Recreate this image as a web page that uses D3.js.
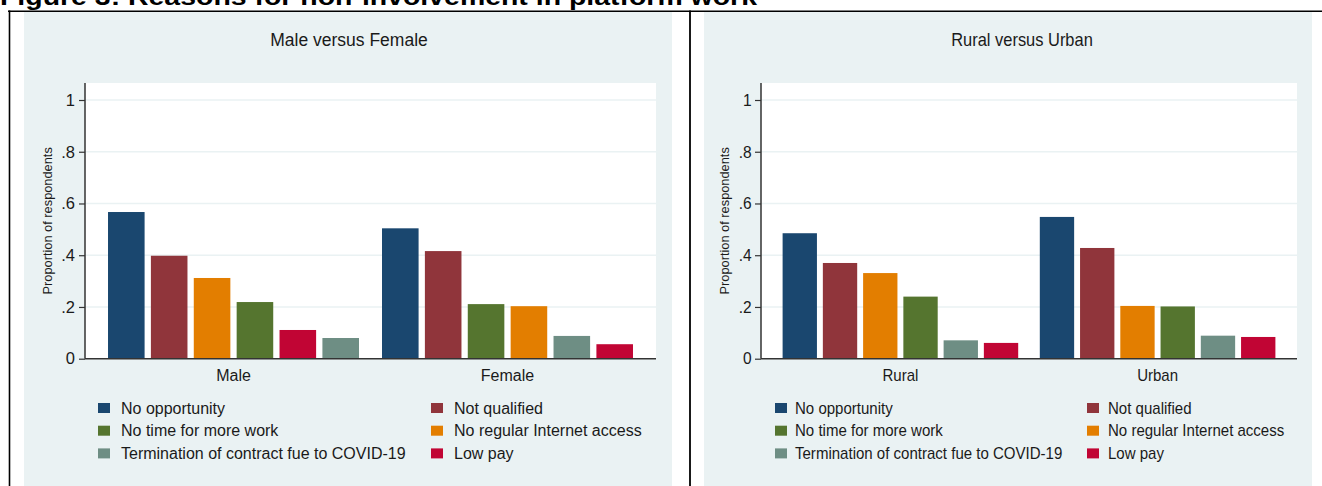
<!DOCTYPE html>
<html>
<head>
<meta charset="utf-8">
<script src="https://cdn.jsdelivr.net/npm/d3@7"></script>
<style>
  html, body { margin: 0; padding: 0; background: #ffffff; }
  svg { display: block; }
  text { font-family: "Liberation Sans", Arial, Helvetica, sans-serif; fill: #1a1a1a; }
</style>
</head>
<body>
<svg id="chart" width="1322" height="486"></svg>
<script>
// ---------- data ----------
const figureTitle = "Figure 3: Reasons for non-involvement in platform work";
const reasons = [
  "No opportunity",
  "Not qualified",
  "No time for more work",
  "No regular Internet access",
  "Termination of contract fue to COVID-19",
  "Low pay"
];
const reasonColors = ["#1a476f", "#90353b", "#55752f", "#e37e00", "#6e8e84", "#c10534"];

const panelTitles = ["Male versus Female", "Rural versus Urban"];
const sexGroups = ["Male", "Female"];
const maleValues   = [0.567, 0.398, 0.219, 0.312, 0.080, 0.111];
const femaleValues = [0.504, 0.416, 0.211, 0.203, 0.088, 0.056];
const areaGroups = ["Rural", "Urban"];
const ruralValues = [0.485, 0.370, 0.240, 0.331, 0.071, 0.061];
const urbanValues = [0.548, 0.428, 0.202, 0.204, 0.089, 0.084];

const yTicks = [0, 0.2, 0.4, 0.6, 0.8, 1];
const yTickLabels = ["0", ".2", ".4", ".6", ".8", "1"];
const yAxisTitle = "Proportion of respondents";

// ---------- layout ----------
const svg = d3.select("#chart");
const BG = "#eaf2f3";

// document title (cut off at top, as in the source page)
svg.append("text")
  .attr("x", 0).attr("y", 4.5)
  .attr("textLength", 757).attr("lengthAdjust", "spacingAndGlyphs")
  .style("font-weight", "bold").style("font-size", "23px").style("fill", "#000")
  .text(figureTitle);

const panels = [
  { title: panelTitles[0], groups: sexGroups, values: [maleValues, femaleValues],
    bg: [24, 672], titleX: 349, plot: [85, 656], yTitleX: 52, sx: 1,
    legendCols: [[98, 121], [431, 454]] },
  { title: panelTitles[1], groups: areaGroups, values: [ruralValues, urbanValues],
    bg: [704, 1312], titleX: 1022, plot: [761, 1297], yTitleX: 729, sx: 0.94,
    legendCols: [[775, 795], [1087, 1108]] }
];

const plotTop = 83, y0px = 358.7, y1px = 100;
const y = d3.scaleLinear().domain([0, 1]).range([y0px, y1px]);

function label(g, x, yy, txt, size, sx, anchor, baseline) {
  const t = g.append("text")
    .attr("transform", `translate(${x},${yy}) scale(${sx},1)`)
    .attr("text-anchor", anchor || "start")
    .style("font-size", size + "px").text(txt);
  if (baseline) t.attr("dominant-baseline", baseline);
  return t;
}

panels.forEach(p => {
  const g = svg.append("g");
  // panel background
  g.append("rect").attr("x", p.bg[0]).attr("y", 12)
    .attr("width", p.bg[1] - p.bg[0]).attr("height", 486 - 12).attr("fill", BG);
  // plot region
  g.append("rect").attr("x", p.plot[0]).attr("y", plotTop)
    .attr("width", p.plot[1] - p.plot[0]).attr("height", y0px - plotTop).attr("fill", "#ffffff");
  // gridlines
  g.selectAll(".grid").data(yTicks.filter(t => t > 0)).enter().append("line")
    .attr("x1", p.plot[0]).attr("x2", p.plot[1])
    .attr("y1", d => y(d)).attr("y2", d => y(d))
    .attr("stroke", BG).attr("stroke-width", 1.5);
  // title
  label(g, p.titleX, 46, p.title, 17.5, p.sx, "middle");

  // scales
  const x0 = d3.scaleBand().domain(p.groups).range(p.plot)
    .paddingInner(0.084).paddingOuter(0.084);
  const x1 = d3.scaleBand().domain(d3.range(reasons.length)).range([0, x0.bandwidth()])
    .paddingInner(0.147).paddingOuter(0);

  p.groups.forEach((grp, gi) => {
    const vals = p.values[gi];
    const order = d3.range(reasons.length).sort((a, b) => vals[b] - vals[a]);
    const bars = order.map((ri, pos) => ({ ri, pos, v: vals[ri] }));
    g.selectAll(".bar" + gi).data(bars).enter().append("rect")
      .attr("x", d => x0(grp) + x1(d.pos))
      .attr("y", d => y(d.v))
      .attr("width", x1.bandwidth())
      .attr("height", d => y(0) - y(d.v))
      .attr("fill", d => reasonColors[d.ri]);
    label(g, x0(grp) + x0.bandwidth() / 2, 381, grp, 16, p.sx, "middle");
  });

  // y axis
  const axis = d3.axisLeft(y).tickValues(yTicks)
    .tickFormat((d, i) => yTickLabels[i]).tickSize(6).tickPadding(4);
  const ax = g.append("g").attr("transform", `translate(${p.plot[0]},0)`).call(axis);
  ax.select(".domain").attr("d", `M0,${plotTop}V${y0px}`).attr("stroke", "#333").attr("stroke-width", 1.5);
  ax.selectAll(".tick line").attr("stroke", "#333").attr("stroke-width", 1.2);
  ax.selectAll(".tick text").style("font-size", "16.5px")
    .attr("transform", `scale(${p.sx},1)`)
    .style("font-family", '"Liberation Sans", Arial, sans-serif').attr("fill", "#1a1a1a");
  // x baseline
  g.append("line").attr("x1", p.plot[0]).attr("x2", p.plot[1])
    .attr("y1", y0px).attr("y2", y0px).attr("stroke", "#333").attr("stroke-width", 1.5);
  // y title
  g.append("text")
    .attr("transform", `translate(${p.yTitleX},${(plotTop + y0px) / 2}) rotate(-90)`)
    .attr("text-anchor", "middle").style("font-size", "12.8px").text(yAxisTitle);

  // legend: 2 columns filled row-wise
  reasons.forEach((r, i) => {
    const col = i % 2, row = Math.floor(i / 2);
    const cy = 408 + row * 22.7;
    g.append("rect").attr("x", p.legendCols[col][0]).attr("y", cy - 5)
      .attr("width", 12).attr("height", 10).attr("fill", reasonColors[i]);
    label(g, p.legendCols[col][1], cy, r, 16, p.sx, "start", "central");
  });
});

// table borders
svg.append("line").attr("x1", 8).attr("x2", 1322).attr("y1", 11.3).attr("y2", 11.3)
  .attr("stroke", "#000").attr("stroke-width", 1.6);
svg.append("line").attr("x1", 9.5).attr("x2", 9.5).attr("y1", 10.5).attr("y2", 486)
  .attr("stroke", "#000").attr("stroke-width", 1.6);
svg.append("line").attr("x1", 690).attr("x2", 690).attr("y1", 10.5).attr("y2", 486)
  .attr("stroke", "#000").attr("stroke-width", 1.8);
</script>
</body>
</html>
